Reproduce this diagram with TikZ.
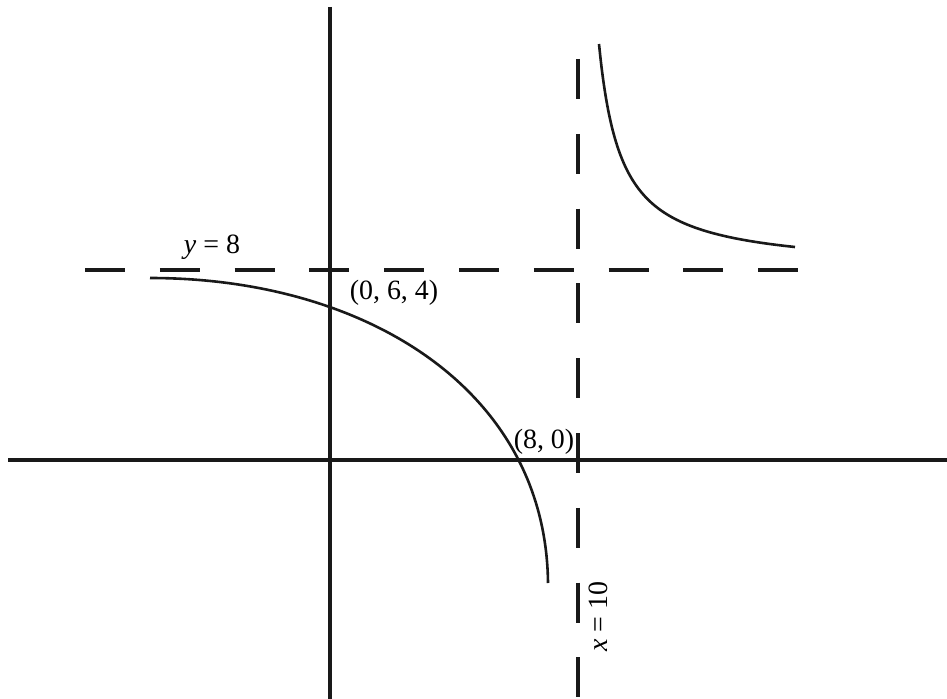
\documentclass[tikz,border=0pt]{standalone}
\usepackage{fontspec}
\setmainfont{Liberation Serif}
\begin{document}
\begin{tikzpicture}[x=1bp,y=-1bp,
  axis/.style={line width=3.1bp,black!90},
  asym/.style={line width=3.3bp,black!90,dash pattern=on 40bp off 34.8bp},
  graph/.style={line width=2.6bp,black!90},
  lbl/.style={font=\fontsize{28}{32}\selectfont,inner sep=0pt}]
\useasboundingbox (0,0) rectangle (947,699);
% axes
\coordinate (yt) at (330,7);
\coordinate (yb) at (330,699);
\coordinate (xl) at (8,460);
\coordinate (xr) at (947,460);
\draw[axis] (yt) -- (yb);
\draw[axis] (xl) -- (xr);
% asymptotes
\coordinate (hl) at (85,270);
\coordinate (hr) at (798,270);
\coordinate (vt) at (578,59);
\coordinate (vb) at (578,699);
\draw[asym] (hl) -- (hr);
\draw[asym] (vt) -- (vb);
% lower branch
\coordinate (la) at (150,278);
\coordinate (lb) at (548,583);
\draw[graph] (la) .. controls (366,278) and (546,390) .. (lb);
% upper branch
\draw[graph] plot[domain=599:795,samples=120,smooth] (\x,{270-5017/(\x-576.8)});
% labels
\node[lbl] (ly) at (212,247) {\textit{y} = 8};
\node[lbl] (lp) at (394,293) {(0, 6, 4)};
\node[lbl] (lq) at (544,442) {(8, 0)};
\node[lbl,rotate=90] (lx) at (598,617) {\textit{x} = 10};
\end{tikzpicture}
\end{document}
